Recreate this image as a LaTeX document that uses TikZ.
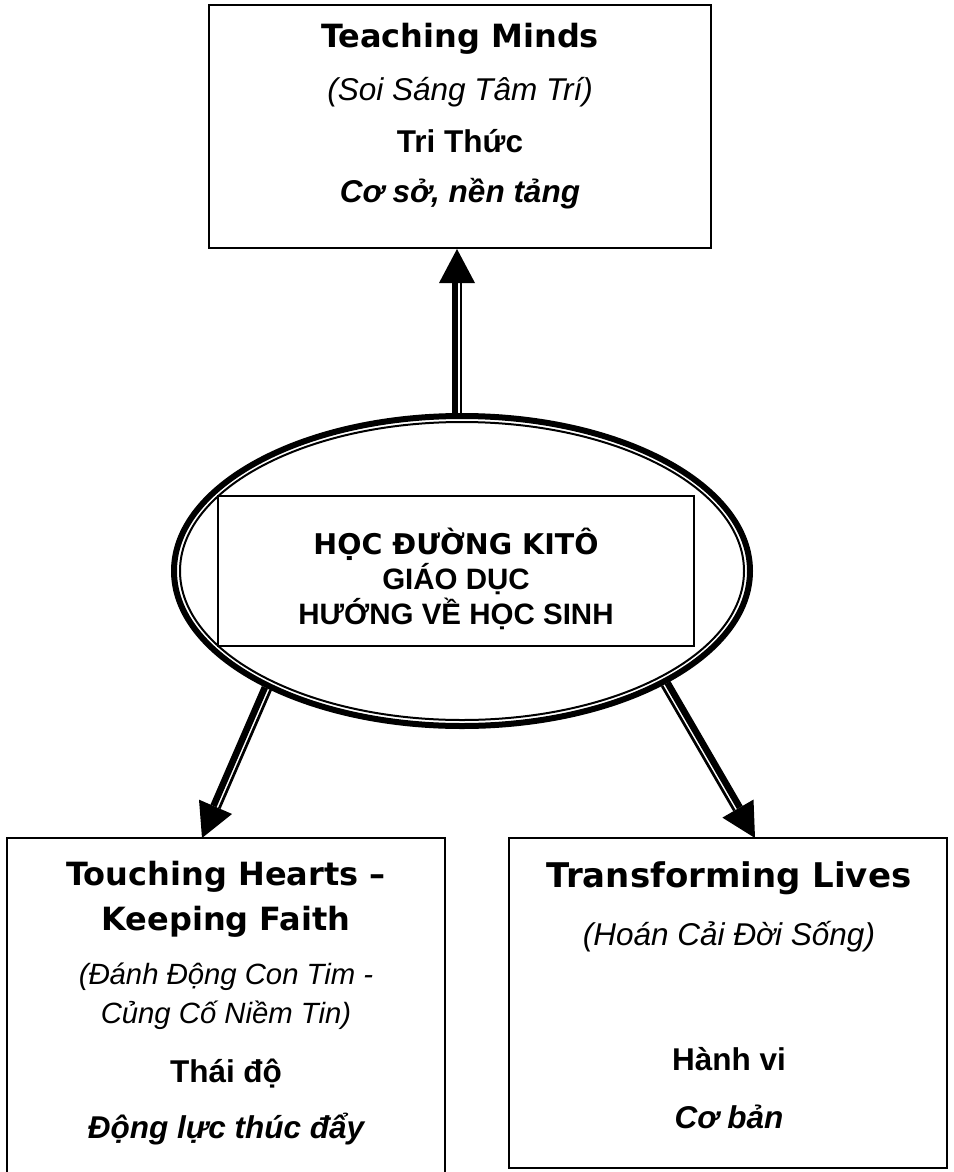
\documentclass[tikz,border=0pt]{standalone}
\usepackage{fontspec}
\setmainfont{Liberation Sans}
\newfontfamily\hdfont{DejaVu Sans}
\usetikzlibrary{calc,shapes.geometric}
\newcommand\ttarrow[4]{%
  \coordinate (ttB) at ($(#2)!34pt!(#1)$);
  \draw[line width=6.6pt] ($(#1)!2.2pt!#3:(ttB)$) -- ($(ttB)!2.2pt!#4:(#1)$);
  \draw[line width=2.7pt] ($(#1)!4.1pt!#4:(ttB)$) -- ($(ttB)!4.1pt!#3:(#1)$);
  \fill ($(ttB)!18pt!90:(#2)$) -- (#2) -- ($(ttB)!18pt!-90:(#2)$) -- cycle;
}
\begin{document}
\begin{tikzpicture}[x=1pt,y=-1pt,
  box/.style={draw,line width=2pt,inner sep=0,fill=white},
  txt/.style={anchor=base,inner sep=0},
  hd/.style={txt,font=\hdfont\bfseries\fontsize{#1}{#1}\selectfont},
  it/.style={txt,font=\itshape\fontsize{#1}{#1}\selectfont},
  bd/.style={txt,font=\bfseries\fontsize{#1}{#1}\selectfont},
  bi/.style={txt,font=\bfseries\itshape\fontsize{#1}{#1}\selectfont}]
\useasboundingbox (0,0) rectangle (953,1172);
% boxes
\node[box,minimum width=502pt,minimum height=243pt] (top) at (460,126.5) {};
\node[box,minimum width=438pt,minimum height=350pt] (lb) at (226,1013) {};
\node[box,minimum width=438pt,minimum height=330pt] (rb) at (728,1003) {};
% ellipse
\node[draw,ellipse,line width=6pt,minimum width=576pt,minimum height=310pt,inner sep=0,fill=white] (E) at (462,571) {};
\draw[line width=2pt] (E.center) ellipse [x radius=282pt, y radius=149pt];
\node[draw,line width=1.8pt,inner sep=0,minimum width=476pt,minimum height=150pt] (inner) at (456,571) {};
% connectors
\coordinate (us) at ($(E.north)+(-5,0)$);
\coordinate (ut) at (us |- top.south);
\coordinate (ls) at (E.211.6);
\coordinate (lt) at (202,838);
\coordinate (rs) at (E.331.9);
\coordinate (rt) at (755,838);
\ttarrow{us}{ut}{90}{-90}
\ttarrow{ls}{lt}{-90}{90}
\ttarrow{rs}{rt}{90}{-90}
% top box text
\node[hd=32] (t1) at (460,48) {Teaching Minds};
\node[it=31.5] (t2) at (460,100) {(Soi Sáng Tâm Trí)};
\node[bd=31.5] (t3) at (460,152) {Tri Thức};
\node[bi=31.5] (t4) at (460,202) {Cơ sở, nền tảng};
% inner text
\node[hd=28.5] (c1) at (456,554) {HỌC ĐƯỜNG KITÔ};
\node[bd=29.5] (c2) at (456,589) {GIÁO DỤC};
\node[bd=29.5] (c3) at (456,624) {HƯỚNG VỀ HỌC SINH};
% left box text
\node[hd=32] (l1) at (226,885) {Touching Hearts –};
\node[hd=32] (l2) at (226,930) {Keeping Faith};
\node[it=29.3] (l3) at (226,984) {(Đánh Động Con Tim -};
\node[it=29.3] (l4) at (226,1023) {Củng Cố Niềm Tin)};
\node[bd=31.5] (l5) at (226,1082) {Thái độ};
\node[bi=31.5] (l6) at (226,1138) {Động lực thúc đẩy};
% right box text
\node[hd=34] (r1) at (729,887) {Transforming Lives};
\node[it=31.5] (r2) at (729,945) {(Hoán Cải Đời Sống)};
\node[bd=31.5] (r3) at (729,1070) {Hành vi};
\node[bi=31.5] (r4) at (729,1128) {Cơ bản};
\end{tikzpicture}
\end{document}
